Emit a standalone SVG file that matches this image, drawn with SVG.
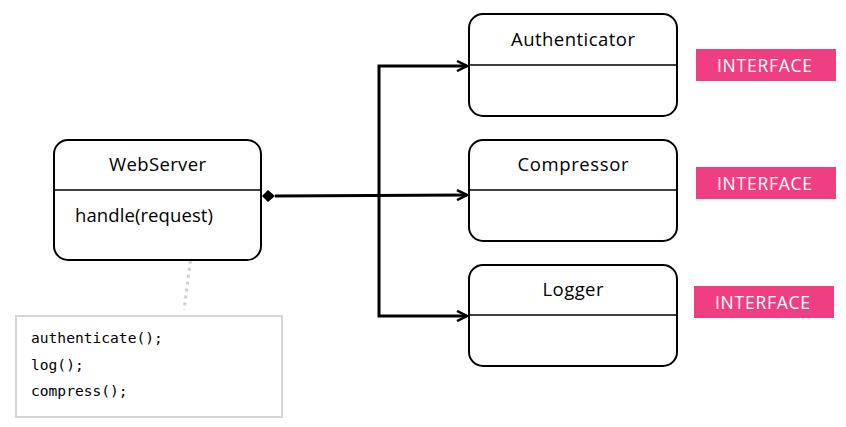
<svg xmlns="http://www.w3.org/2000/svg" width="846" height="427" viewBox="0 0 846 427">
<style>
.box{fill:#fff;stroke:#000;stroke-width:2}
.div{stroke:#000;stroke-width:1.5}
.title{font-family:"Open Sans","Noto Sans",sans-serif;font-size:18.5px;font-weight:500;fill:#000;text-anchor:middle}
.badge{fill:#F03E82}
.btxt{font-family:"Open Sans","Noto Sans",sans-serif;font-size:17.5px;font-weight:500;fill:#fff;text-anchor:middle}
.code{font-family:"DejaVu Sans Mono",monospace;font-size:14.6px;fill:#000}
.conn{fill:none;stroke:#000;stroke-width:3}
</style>
<defs>
<marker id="arr" viewBox="0 0 12 12" refX="11" refY="6" markerWidth="12" markerHeight="12" markerUnits="userSpaceOnUse" orient="auto">
<path d="M1,1 L11,6 L1,11" fill="none" stroke="#000" stroke-width="2.5"/>
</marker>
</defs>
<rect width="846" height="427" fill="#fff"/>
<g id="connectors">
<path class="conn" d="M275,196 L467,195" marker-end="url(#arr)"/>
<path class="conn" d="M379,195 L379,66 L467,66" marker-end="url(#arr)"/>
<path class="conn" d="M379,195 L379,316 L467,316" marker-end="url(#arr)"/>
<path d="M262,196 L268,190 L275,196 L268,202 Z" fill="#000"/>
<path d="M194,233 L184,310" stroke="#cfcfcf" stroke-width="3" stroke-dasharray="3,4" fill="none"/>
</g>
<g id="webserver">
<rect class="box" x="54" y="140" width="207" height="120" rx="14"/>
<line class="div" x1="54" y1="190" x2="261" y2="190"/>
<text class="title" x="157.5" y="171" textLength="97">WebServer</text>
<text x="75" y="222" font-family="'Open Sans','Noto Sans',sans-serif" font-size="18.5" font-weight="500" textLength="138">handle(request)</text>
</g>
<g id="authenticator">
<rect class="box" x="469" y="14" width="208" height="102" rx="14"/>
<line class="div" x1="469" y1="65" x2="677" y2="65"/>
<text class="title" x="573" y="46" textLength="124">Authenticator</text>
</g>
<g id="compressor">
<rect class="box" x="469" y="140" width="208" height="101" rx="14"/>
<line class="div" x1="469" y1="190" x2="677" y2="190"/>
<text class="title" x="573" y="171" textLength="111">Compressor</text>
</g>
<g id="logger">
<rect class="box" x="469" y="265" width="208" height="101" rx="14"/>
<line class="div" x1="469" y1="315" x2="677" y2="315"/>
<text class="title" x="573" y="296" textLength="61">Logger</text>
</g>
<g id="badge1">
<rect class="badge" x="696" y="49" width="140" height="32"/>
<text class="btxt" x="764.5" y="71.5" textLength="95">INTERFACE</text>
</g>
<g id="badge2">
<rect class="badge" x="696" y="167" width="140" height="32"/>
<text class="btxt" x="764.5" y="189.5" textLength="95">INTERFACE</text>
</g>
<g id="badge3">
<rect class="badge" x="694" y="286" width="140" height="32"/>
<text class="btxt" x="762.5" y="308.5" textLength="95">INTERFACE</text>
</g>
<g id="note">
<rect x="16" y="316" width="266" height="101" fill="#fff" stroke="#d6d6d6" stroke-width="2"/>
<text class="code" x="31" y="343">authenticate();</text>
<text class="code" x="31" y="370">log();</text>
<text class="code" x="31" y="396">compress();</text>
</g>
</svg>
